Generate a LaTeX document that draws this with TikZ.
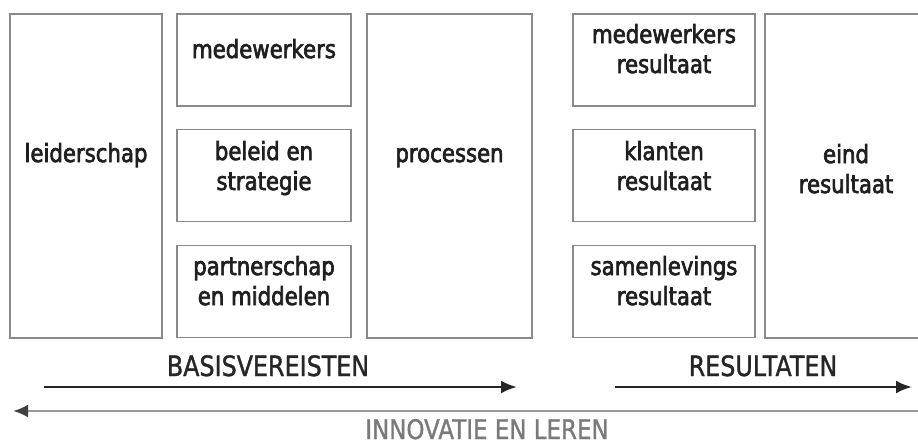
\documentclass[tikz,border=0pt]{standalone}
\usepackage{fontspec}
\setmainfont[FakeStretch=0.85, FakeBold=1.2]{DejaVu Sans}
\newfontfamily\vakfont[FakeStretch=0.85, FakeBold=2.6]{DejaVu Sans}
\usepackage{tikz}
\usetikzlibrary{arrows.meta}

\definecolor{randgrijs}{HTML}{8A8A8A}
\definecolor{tekstgrijs}{HTML}{7A7A7A}

\begin{document}
\begin{tikzpicture}[x=1pt, y=-1pt,
    vak/.style={draw=randgrijs, line width=1.8pt, rectangle, inner sep=0pt},
    vaktekst/.style={anchor=base, align=center, text=black!88, font=\vakfont\fontsize{25}{30}\selectfont},
    kop/.style={anchor=base, font=\fontsize{28}{30}\selectfont}]
  \useasboundingbox (0,0) rectangle (918,445);

  % basisvereisten
  \node[vak, minimum width=152, minimum height=324] (leiderschap) at (86,176) {};
  \node[vak, minimum width=174, minimum height=92] (medewerkers) at (264,60) {};
  \node[vak, minimum width=174, minimum height=92] (beleid) at (264,175.5) {};
  \node[vak, minimum width=174, minimum height=92] (partners) at (264,291.5) {};
  \node[vak, minimum width=165, minimum height=324] (processen) at (449.5,176) {};

  \node[vaktekst] (t-leiderschap) at (86,162) {leiderschap};
  \node[vaktekst] (t-medewerkers) at (264,58) {medewerkers};
  \node[vaktekst] (t-beleid) at (264,190) {beleid en\\strategie};
  \node[vaktekst] (t-partners) at (264,305) {partnerschap\\en middelen};
  \node[vaktekst] (t-processen) at (449.5,162) {processen};

  % resultaten
  \node[vak, minimum width=182, minimum height=92] (mw-res) at (664,60) {};
  \node[vak, minimum width=182, minimum height=92] (kl-res) at (664,175.5) {};
  \node[vak, minimum width=182, minimum height=92] (sa-res) at (664,291.5) {};
  \node[vak, minimum width=158, minimum height=324] (eind-res) at (844,176) {};

  \node[vaktekst] (t-mw-res) at (664,73) {medewerkers\\resultaat};
  \node[vaktekst] (t-kl-res) at (664,190) {klanten\\resultaat};
  \node[vaktekst] (t-sa-res) at (664,305) {samenlevings\\resultaat};
  \node[vaktekst] (t-eind-res) at (846,193) {eind\\resultaat};

  % pijlen
  \node[kop, text=black!85] (basis) at (268,376) {BASISVEREISTEN};
  \node[kop, text=black!85] (result) at (763,376) {RESULTATEN};
  \node[kop, text=tekstgrijs, font=\fontsize{27}{30}\selectfont] (innovatie) at (487,439) {INNOVATIE EN LEREN};

  \coordinate (basis-begin) at (44,387);
  \coordinate (basis-eind) at (517,387);
  \coordinate (result-begin) at (615,387);
  \coordinate (result-eind) at (912,387);
  \coordinate (innov-begin) at (918,411);
  \coordinate (innov-eind) at (13,411);

  \draw[black!85, line width=2.6pt, -{Latex[length=16pt, width=13pt]}] (basis-begin) -- (basis-eind);
  \draw[black!85, line width=2.6pt, -{Latex[length=16pt, width=13pt]}] (result-begin) -- (result-eind);
  \draw[black!40, line width=2.6pt, -{Latex[length=15pt, width=13pt, color=black!75]}] (innov-begin) -- (innov-eind);
\end{tikzpicture}
\end{document}
